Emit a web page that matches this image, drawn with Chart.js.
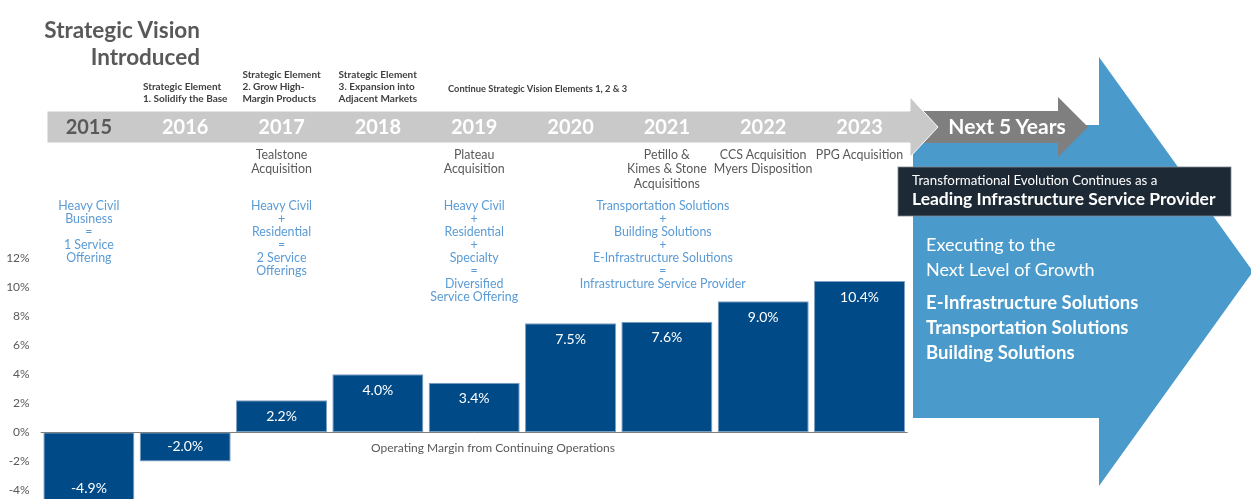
<!DOCTYPE html>
<html><head><meta charset="utf-8">
<script src="https://cdn.jsdelivr.net/npm/chart.js@4.4.0/dist/chart.umd.min.js"></script>
<style>
html,body{margin:0;padding:0;width:1251px;height:499px;overflow:hidden;background:#fff;font-family:Lato,"Open Sans",sans-serif;}
#shapes{position:absolute;left:0;top:0;z-index:0}
#wrap{position:absolute;left:0;top:0;width:1251px;height:499px;z-index:1}
#labels{position:absolute;left:0;top:0;width:1251px;height:499px;z-index:2;pointer-events:none}
.t{position:absolute;white-space:nowrap}
.c{transform:translateX(-50%);text-align:center}
.cl{transform:translateX(-50%);text-align:left}
</style></head>
<body>
<svg id="shapes" width="1251" height="499">
  <polygon points="913,125 1099,125 1099,57 1253,271.5 1099,486 1099,418 913,418" fill="#4A9ACB"/>
  <polygon points="923,111 1058,111 1058,97 1088,127 1058,157 1058,143 923,143" fill="#7F7F7F"/>
  <polygon points="47,111 910,111 910,97 938,127 910,157 910,143 47,143" fill="#C9C9C9" stroke="#ffffff" stroke-width="1"/>
  <rect x="898" y="167" width="333" height="49" fill="#1D2935" stroke="#7f8a95" stroke-width="0.8"/>
</svg>
<div id="wrap"><canvas id="chart"></canvas></div>
<div id="labels"></div>
<script>
const years = ['2015','2016','2017','2018','2019','2020','2021','2022','2023'];
const margins = [-4.9, -2.0, 2.2, 4.0, 3.4, 7.5, 7.6, 9.0, 10.4];
const yTickValues = [-4, -2, 0, 2, 4, 6, 8, 10, 12];
const strategicNotes = [null, ['Strategic Element','1. Solidify the Base'], ['Strategic Element','2. Grow High-','Margin Products'], ['Strategic Element','3. Expansion into','Adjacent Markets'], null, null, null, null, null];
const continueNote = 'Continue Strategic Vision Elements 1, 2 & 3';
const events = [null, null, ['Tealstone','Acquisition'], null, ['Plateau','Acquisition'], null, ['Petillo &','Kimes & Stone','Acquisitions'], ['CCS Acquisition','Myers Disposition'], ['PPG Acquisition']];
const offerings = [
  ['Heavy Civil','Business','=','1 Service','Offering'], null,
  ['Heavy Civil','+','Residential','=','2 Service','Offerings'], null,
  ['Heavy Civil','+','Residential','+','Specialty','=','Diversified','Service Offering'], null,
  ['Transportation Solutions','+','Building Solutions','+','E-Infrastructure Solutions','=','Infrastructure Service Provider'], null, null];
const headline = ['Strategic Vision', 'Introduced'];
const axisCaption = 'Operating Margin from Continuing Operations';
const nextLabel = 'Next 5 Years';
const boxLines = ['Transformational Evolution Continues as a', 'Leading Infrastructure Service Provider'];
const growthLines = ['Executing to the', 'Next Level of Growth'];
const solutionLines = ['E-Infrastructure Solutions', 'Transportation Solutions', 'Building Solutions'];

const BAR = '#004B87';

const zeroLine = {
  id: 'zeroLine',
  afterDatasetsDraw(chart) {
    const {ctx, chartArea, scales} = chart;
    const y = Math.round(scales.y.getPixelForValue(0)) + 0.5;
    ctx.save();
    ctx.strokeStyle = '#7F7F7F';
    ctx.lineWidth = 1;
    ctx.beginPath();
    ctx.moveTo(chartArea.left, y);
    ctx.lineTo(chartArea.right, y);
    ctx.stroke();
    ctx.restore();
  }
};
const barLabels = {
  id: 'barLabels',
  afterDatasetsDraw(chart) {
    const {ctx} = chart;
    const meta = chart.getDatasetMeta(0);
    ctx.save();
    ctx.font = '14px Lato, "Open Sans", sans-serif';
    ctx.fillStyle = '#FFFFFF';
    ctx.textAlign = 'center';
    ctx.textBaseline = 'middle';
    meta.data.forEach((bar, i) => {
      const v = margins[i];
      const y = v >= 0 ? bar.y + 16 : bar.y - 15;
      ctx.fillText(v.toFixed(1) + '%', bar.x, y);
    });
    ctx.restore();
  }
};

const chart = new Chart(document.getElementById('chart'), {
  type: 'bar',
  data: {
    labels: years,
    datasets: [{
      data: margins,
      backgroundColor: BAR,
      borderColor: '#7FA0C3',
      borderWidth: 1,
      borderSkipped: false,
      barPercentage: 0.945,
      categoryPercentage: 1.0
    }]
  },
  options: {
    responsive: true,
    maintainAspectRatio: false,
    animation: false,
    layout: {padding: {left: 0, top: 257.7, right: 343.3, bottom: 0}},
    plugins: {legend: {display: false}, tooltip: {enabled: false}},
    scales: {
      x: {display: false},
      y: {
        min: -4.58, max: 12,
        afterBuildTicks: (s) => { s.ticks = yTickValues.map(v => ({value: v})); },
        afterFit: (s) => { s.width = 40.7; s.paddingTop = 0; s.paddingBottom = 0; },
        grid: {display: false, drawTicks: false},
        border: {display: false},
        ticks: {
          padding: 11,
          color: '#595959',
          font: {family: 'Lato, "Open Sans", sans-serif', size: 12},
          callback: (v) => v + '%'
        }
      }
    }
  },
  plugins: [zeroLine, barLabels]
});

// HTML text overlays positioned from the chart's x scale
const L = document.getElementById('labels');
function addText(lines, x, top, cls, style) {
  const d = document.createElement('div');
  d.className = 't ' + cls;
  d.style.left = x + 'px';
  d.style.top = top + 'px';
  Object.assign(d.style, style);
  d.innerHTML = lines.map(s => s.replace(/&/g,'&amp;')).join('<br>');
  L.appendChild(d);
  return d;
}
const xs = chart.scales.x;
const cx = (i) => xs.getPixelForValue(i);

addText(headline, 44, 16, '', {font: 'bold 22.5px Lato, sans-serif', color: '#595959', lineHeight: '27px', textAlign: 'right', width: '156px'});

years.forEach((yr, i) => {
  addText([yr], cx(i), 113, 'c', {font: 'bold 20px Lato, sans-serif', color: i === 0 ? '#595959' : '#FFFFFF', lineHeight: '26px'});
  const sn = strategicNotes[i];
  if (sn) addText(sn, cx(i), 104 - sn.length * 12, 'cl', {font: 'bold 10px Lato, sans-serif', color: '#404040', lineHeight: '12px'});
  const ev = events[i];
  if (ev) addText(ev, cx(i), 147.5, 'c', {font: '12.4px Lato, sans-serif', color: '#595959', lineHeight: '14.5px'});
  const of = offerings[i];
  if (of) addText(of, cx(i) - (i === 6 ? 4 : 0), 198.5, 'c', {font: '12.4px Lato, sans-serif', color: '#5B9BD5', lineHeight: '13px'});
});
addText([continueNote], 448, 82, '', {font: 'bold 9.3px Lato, sans-serif', color: '#404040', lineHeight: '14px'});
addText([axisCaption], 493, 441, 'c', {font: '12px Lato, sans-serif', color: '#595959', lineHeight: '14px'});
addText([nextLabel], 1007, 112, 'c', {font: 'bold 21px Lato, sans-serif', color: '#FFFFFF', lineHeight: '28px'});
addText([boxLines[0]], 912, 172, '', {font: '13.3px Lato, sans-serif', color: '#FFFFFF', lineHeight: '16px'});
addText([boxLines[1]], 912, 188, '', {font: 'bold 17.5px Lato, sans-serif', color: '#FFFFFF', lineHeight: '22px'});
addText(growthLines, 926, 232, '', {font: '18px Lato, sans-serif', color: '#FFFFFF', lineHeight: '25px'});
addText(solutionLines, 926, 290, '', {font: 'bold 18.5px Lato, sans-serif', color: '#FFFFFF', lineHeight: '25px'});
</script>
</body></html>
